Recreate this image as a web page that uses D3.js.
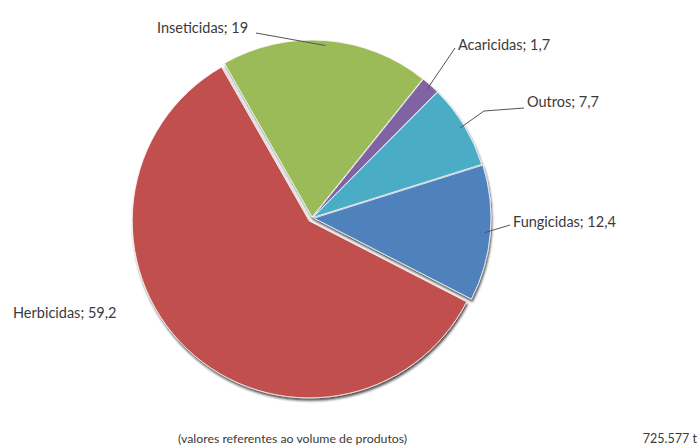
<!DOCTYPE html>
<html>
<head>
<meta charset="utf-8">
<script src="https://cdn.jsdelivr.net/npm/d3@7/dist/d3.min.js"></script>
<style>
  html, body { margin: 0; padding: 0; background: #fff; }
  svg { display: block; }
  text { font-family: Lato, "Open Sans", sans-serif; fill: #3a3a3a; }
</style>
</head>
<body>
<svg id="chart" width="699" height="447"></svg>
<script>
// Agrotóxicos por classe (% do volume)
const categories = ["Herbicidas", "Inseticidas", "Acaricidas", "Outros", "Fungicidas"];
const values = [59.2, 19, 1.7, 7.7, 12.4];
const valueLabels = ["59,2", "19", "1,7", "7,7", "12,4"];
const colors = ["#c0504d", "#9bbb59", "#8064a2", "#4bacc6", "#4f81bd"];
const footerNote = "(valores referentes ao volume de produtos)";
const totalLabel = "725.577 t";

// layout
const W = 699, H = 447;
const cx = 312, cy = 218, R = 177;
const startDeg = 117.2;
const explode = [4, 1, 1, 1, 2];
// label anchor and leader end / elbow
const labelPos = [
  { x: 13, y: 318, anchor: "start", leader: false },
  { x: 157, y: 33, anchor: "start", leader: true, ex: 256, ey: 33 },
  { x: 458, y: 50, anchor: "start", leader: true, ex: 455, ey: 48 },
  { x: 527, y: 107, anchor: "start", leader: true, ex: 524, ey: 108, mx: 484, my: 111 },
  { x: 513, y: 227, anchor: "start", leader: true, ex: 510, ey: 225 }
];

const svg = d3.select("#chart");

const defs = svg.append("defs");
const f = defs.append("filter").attr("id", "shadow")
  .attr("x", "-10%").attr("y", "-10%").attr("width", "120%").attr("height", "120%");
f.append("feDropShadow").attr("dx", 1).attr("dy", 2.5).attr("stdDeviation", 1.3)
  .attr("flood-color", "#1a1a1a").attr("flood-opacity", 0.75);

const data = categories.map((c, i) => ({ name: c, value: values[i], label: valueLabels[i], color: colors[i], i }));

const pie = d3.pie().value(d => d.value).sort(null)
  .startAngle(startDeg * Math.PI / 180)
  .endAngle((startDeg + 360) * Math.PI / 180);
const arcs = pie(data);

const arc = d3.arc().innerRadius(0).outerRadius(R);

const g = svg.append("g").attr("transform", `translate(${cx},${cy})`);

g.selectAll("path.slice").data(arcs).join("path")
  .attr("class", "slice")
  .attr("d", arc)
  .attr("fill", d => d.data.color)
  .attr("stroke", "#fff")
  .attr("stroke-width", 0.8)
  .attr("filter", "url(#shadow)")
  .attr("transform", d => {
    const m = (d.startAngle + d.endAngle) / 2;
    const o = explode[d.data.i];
    return `translate(${o * Math.sin(m)},${-o * Math.cos(m)})`;
  });

// leader lines from slice edge to label
const leaders = svg.append("g");
arcs.forEach(d => {
  const lp = labelPos[d.data.i];
  if (!lp.leader) return;
  const m = (d.startAngle + d.endAngle) / 2;
  const r0 = R - 4;
  const px = cx + r0 * Math.sin(m), py = cy - r0 * Math.cos(m);
  const pts = [[px, py]];
  if (lp.mx !== undefined) pts.push([lp.mx, lp.my]);
  pts.push([lp.ex, lp.ey]);
  leaders.append("path")
    .attr("d", d3.line()(pts))
    .attr("fill", "none")
    .attr("stroke", "#555")
    .attr("stroke-width", 1);
});

svg.append("g").selectAll("text").data(data).join("text")
  .attr("x", d => labelPos[d.i].x)
  .attr("y", d => labelPos[d.i].y)
  .attr("text-anchor", d => labelPos[d.i].anchor)
  .attr("font-size", 14.5)
  .text(d => `${d.name}; ${d.label}`);

svg.append("text").attr("x", 178).attr("y", 443).attr("font-size", 12.3).text(footerNote);
svg.append("text").attr("x", 697).attr("y", 443).attr("text-anchor", "end").attr("font-size", 12.5).text(totalLabel);
</script>
</body>
</html>
